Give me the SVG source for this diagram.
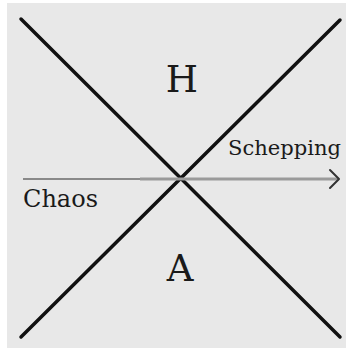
<svg xmlns="http://www.w3.org/2000/svg" width="346" height="348" viewBox="0 0 346 348">
<style>
.diag{stroke:#111;stroke-width:3.5;stroke-linecap:round;fill:none}
.lbl{font-family:"DejaVu Serif","Liberation Serif",serif;fill:#1a1a1a}
</style>
<rect x="0" y="0" width="346" height="348" fill="#ffffff"/>
<rect x="7" y="3" width="339" height="345" fill="#e8e8e8"/>
<g id="connectors">
<line class="diag" x1="21" y1="19" x2="340" y2="337"/>
<line class="diag" x1="340" y1="20" x2="21" y2="337"/>
<line x1="23" y1="179" x2="140" y2="179" stroke="#6a6a6a" stroke-width="1.6"/>
<line x1="140" y1="179" x2="338" y2="179" stroke="#9a9a9a" stroke-width="3"/>
<polyline points="330,170 339,179 330,188" fill="none" stroke="#333" stroke-width="2" stroke-linecap="round" stroke-linejoin="round"/>
</g>
<g id="H"><text class="lbl" x="182" y="92" font-size="37" text-anchor="middle">H</text></g>
<g id="A"><text class="lbl" x="180" y="281" font-size="37" text-anchor="middle">A</text></g>
<g id="Schepping"><text class="lbl" x="228" y="155" font-size="21" textLength="113" lengthAdjust="spacingAndGlyphs">Schepping</text></g>
<g id="Chaos"><text class="lbl" x="23" y="207" font-size="24" textLength="75" lengthAdjust="spacingAndGlyphs">Chaos</text></g>
</svg>
